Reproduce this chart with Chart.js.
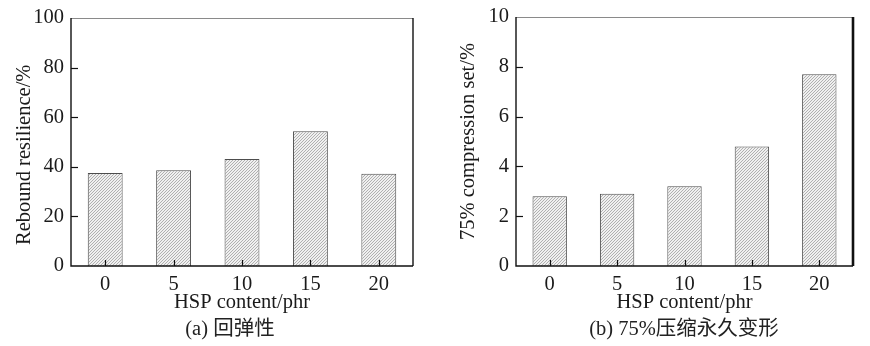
<!DOCTYPE html>
<html>
<head>
<meta charset="utf-8">
<script src="https://cdn.jsdelivr.net/npm/chart.js@4.4.1/dist/chart.umd.min.js"></script>
<style>
  body { margin: 0; background: #fff; }
  #wrap { position: relative; width: 870px; height: 346px; }
  .panel { position: absolute; top: 0; width: 435px; height: 346px; }
  .caption {
    position: absolute; top: 315px; width: 300px; text-align: center;
    font: 20.5px "Liberation Serif", "Noto Sans CJK SC", serif; color: #222; line-height: 26px;
  }
</style>
</head>
<body>
<div id="wrap">
  <div class="panel" style="left:0"><canvas id="chartA" width="435" height="346"></canvas></div>
  <div class="panel" style="left:435px"><canvas id="chartB" width="435" height="346"></canvas></div>
  <div class="caption" style="left:80px">(a) 回弹性</div>
  <div class="caption" style="left:534px">(b) 75%压缩永久变形</div>
</div>
<script>
// HSP loading levels (phr)
const hspContent = ['0', '5', '10', '15', '20'];
// rebound resilience, %
const reboundResilience = [37.5, 38.6, 43.1, 54.3, 37.2];
// 75% compression set, %
const compressionSet = [2.8, 2.9, 3.2, 4.8, 7.7];

const serif = '"Liberation Serif", "Times New Roman", serif';
const textSize = 20.5;

// light grey fill with fine "/" hatching
function hatchPattern() {
  const c = document.createElement('canvas');
  c.width = 3; c.height = 3;
  const g = c.getContext('2d');
  g.fillStyle = '#f0f0f0';
  g.fillRect(0, 0, 3, 3);
  g.strokeStyle = '#a8a8a8';
  g.lineWidth = 0.9;
  g.beginPath();
  g.moveTo(0, 3); g.lineTo(3, 0);
  g.moveTo(-1, 1); g.lineTo(1, -1);
  g.moveTo(2, 4); g.lineTo(4, 2);
  g.stroke();
  return g.createPattern(c, 'repeat');
}

// box frame and inward tick marks
const framePlugin = {
  id: 'frame',
  afterDatasetsDraw(chart, args, opts) {
    const { ctx, chartArea: a, scales } = chart;
    ctx.save();
    ctx.lineCap = 'butt';
    // top edge (thin, grey)
    ctx.strokeStyle = '#8a8a8a';
    ctx.lineWidth = 1;
    ctx.beginPath(); ctx.moveTo(a.left, a.top + 0.5); ctx.lineTo(a.right, a.top + 0.5); ctx.stroke();
    // right edge
    ctx.strokeStyle = '#111';
    ctx.lineWidth = opts.rightWidth || 1.4;
    ctx.beginPath(); ctx.moveTo(a.right, a.top); ctx.lineTo(a.right, a.bottom); ctx.stroke();
    // left and bottom axes
    ctx.lineWidth = 1.4;
    ctx.beginPath();
    ctx.moveTo(a.left, a.top); ctx.lineTo(a.left, a.bottom); ctx.lineTo(a.right, a.bottom);
    ctx.stroke();
    // y ticks pointing in
    ctx.lineWidth = 1.2;
    const y = scales.y;
    y.ticks.forEach(t => {
      if (t.value <= y.min || t.value >= y.max) return;
      const py = Math.round(y.getPixelForValue(t.value)) + 0.5;
      ctx.beginPath(); ctx.moveTo(a.left, py); ctx.lineTo(a.left + 7, py); ctx.stroke();
    });
    // x ticks at category centres
    const x = scales.x;
    x.ticks.forEach((t, i) => {
      const px = Math.round(x.getPixelForTick(i)) + 0.5;
      ctx.beginPath(); ctx.moveTo(px, a.bottom); ctx.lineTo(px, a.bottom - 6); ctx.stroke();
    });
    ctx.restore();
  }
};

function makeChart(id, values, max, step, yTitle, yAxisWidth, yTitlePad, padRight, padTop, rightWidth) {
  return new Chart(document.getElementById(id), {
    type: 'bar',
    data: {
      labels: hspContent,
      datasets: [{
        data: values,
        backgroundColor: hatchPattern(),
        borderColor: '#4d4d4d',
        borderWidth: 1,
        barPercentage: 0.51,
        categoryPercentage: 1
      }]
    },
    options: {
      responsive: false,
      animation: false,
      layout: { padding: { top: padTop, right: padRight, left: 0, bottom: 0 } },
      plugins: { legend: { display: false }, tooltip: { enabled: false }, frame: { rightWidth } },
      scales: {
        x: {
          grid: { display: false },
          border: { display: false },
          ticks: { color: '#1a1a1a', font: { family: serif, size: textSize }, padding: -2 },
          title: {
            display: true, text: 'HSP content/phr', color: '#1a1a1a',
            font: { family: serif, size: textSize, lineHeight: 1.2 },
            padding: { top: 0, bottom: 31 }
          },
          afterFit(s) { s.height = 80; }
        },
        y: {
          min: 0, max: max,
          grid: { display: false },
          border: { display: false },
          ticks: { stepSize: step, color: '#1a1a1a', font: { family: serif, size: textSize }, padding: -1 },
          title: {
            display: true, text: yTitle, color: '#1a1a1a',
            font: { family: serif, size: textSize, lineHeight: 1.2 },
            padding: { top: yTitlePad, bottom: 0 }
          },
          afterFit(s) { s.width = yAxisWidth; }
        }
      }
    },
    plugins: [framePlugin]
  });
}

// trailing spaces nudge the left title toward the bottom of its axis
makeChart('chartA', reboundResilience, 100, 20, 'Rebound resilience/%\u00a0\u00a0\u00a0\u00a0\u00a0', 71, 12, 22, 18, 1.4);
makeChart('chartB', compressionSet, 10, 2, '75% compression set/%', 81, 21, 17, 17, 2.6);
</script>
</body>
</html>
